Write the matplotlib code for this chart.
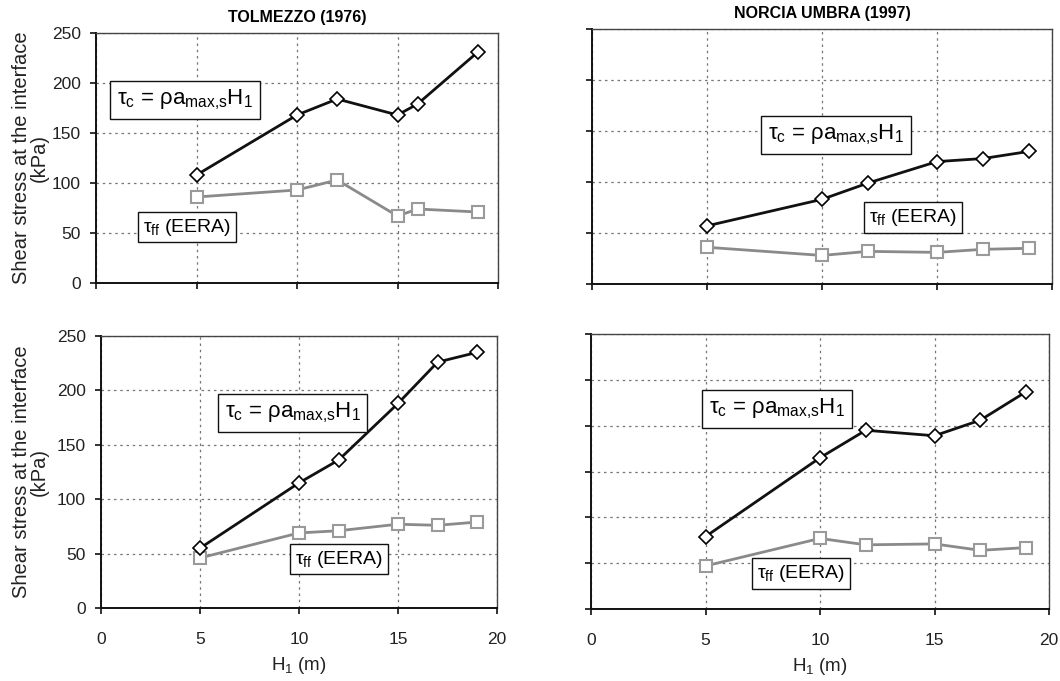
import numpy as np
import matplotlib
matplotlib.use('Agg')
import matplotlib.pyplot as plt

plt.rcParams['font.family'] = ['Liberation Sans', 'DejaVu Sans']
plt.rcParams['mathtext.fontset'] = 'custom'
plt.rcParams['mathtext.rm'] = 'Liberation Sans'
plt.rcParams['mathtext.it'] = 'Liberation Sans'
plt.rcParams['mathtext.bf'] = 'Liberation Sans:bold'

# data (kPa)
h_tol = [5, 10, 12, 15, 16, 19]
tc_tol_top = [108, 168, 184, 168, 179, 231]
tff_tol_top = [86, 93, 103, 67, 74, 71]

h_nor = [5, 10, 12, 15, 17, 19]
tc_nor_top = [57, 83, 99, 120, 123, 130]
tff_nor_top = [36, 28, 32, 31, 34, 35]

h_tol_b = [5, 10, 12, 15, 17, 19]
tc_tol_bot = [55, 115, 136, 188, 226, 235]
tff_tol_bot = [46, 69, 71, 77, 76, 79]

h_nor_b = [5, 10, 12, 15, 17, 19]
tc_nor_bot = [79, 165, 195, 189, 206, 237]
tff_nor_bot = [47, 77, 70, 71, 64, 67]

W, H = 1060, 681
fig = plt.figure(figsize=(W / 100, H / 100), dpi=100)

def box(l, t, r, b):
    return [l / W, 1 - b / H, (r - l) / W, (b - t) / H]

tc_label = r'$\tau_c$ = $\rho$a$_{max{,}s}$H$_1$'
tff_label = r'$\tau_{ff}$ (EERA)'

panels = [
    # axes box, x, tau_c, tau_ff, ymax, ylabels, xlabels, title, tc text pos, tff text pos, ylabel x
    (box(96, 33, 498, 283), h_tol, tc_tol_top, tff_tol_top, 250, True, False, 'TOLMEZZO (1976)', (0.95, 183), (2.3, 56), -0.117),
    (box(592, 29, 1052, 284), h_nor, tc_nor_top, tff_nor_top, 250, False, False, 'NORCIA UMBRA (1997)', (7.55, 146), (12.0, 65), None),
    (box(101, 336, 497, 608), h_tol_b, tc_tol_bot, tff_tol_bot, 250, True, True, None, (6.15, 179), (9.75, 45), -0.131),
    (box(591, 334, 1049, 609), h_nor_b, tc_nor_bot, tff_nor_bot, 300, False, True, None, (5.05, 218), (7.2, 39), None),
]

for rect, x, tc, tff, ymax, ylab, xlab, title, p1, p2, ylx in panels:
    ax = fig.add_axes(rect)
    ax.plot(x, tff, color='#8a8a8a', lw=2, marker='s', ms=9, mfc='white',
            mec='#9a9a9a', mew=1.5, zorder=3, clip_on=False)
    ax.plot(x, tc, color='#111111', lw=2, marker='D', ms=7.5, mfc='white',
            mec='black', mew=1.2, zorder=4, clip_on=False)
    ax.set_xlim(0, 20)
    ax.set_ylim(0, ymax)
    ax.set_xticks(np.arange(0, 21, 5))
    ax.set_yticks(np.arange(0, ymax + 1, 50))
    ax.grid(True, color='#777777', ls=(0, (2, 3)), lw=0.9)
    ax.set_axisbelow(True)
    ax.tick_params(direction='out', length=4, width=1.3, labelsize=12.5, pad=7,
                   colors='#222222')
    ax.tick_params(axis='x', pad=13)
    for s in ['left', 'bottom']:
        ax.spines[s].set_linewidth(1.4)
        ax.spines[s].set_color('#111111')
    for s in ['top', 'right']:
        ax.spines[s].set_linewidth(1.0)
        ax.spines[s].set_color('#444444')
    if not ylab:
        ax.set_yticklabels([])
    else:
        ax.set_ylabel('Shear stress at the interface\n(kPa)', fontsize=14.5,
                      linespacing=0.95, color='#222222')
        ax.yaxis.set_label_coords(ylx, 0.5)
    if not xlab:
        ax.set_xticklabels([])
    else:
        ax.set_xlabel('H$_1$ (m)', fontsize=13.5, labelpad=6, color='#222222')
    if title:
        ax.set_title(title, fontsize=11.5, fontweight='bold', pad=8)
    ax.text(p1[0] + 0.1, p1[1], tc_label, fontsize=16, ha='left', va='center', zorder=6,
            bbox=dict(boxstyle='square,pad=0.3', fc='white', ec='#111111', lw=1.0))
    ax.text(p2[0] + 0.05, p2[1], tff_label, fontsize=14, ha='left', va='center', zorder=6,
            bbox=dict(boxstyle='square,pad=0.25', fc='white', ec='#111111', lw=1.0))

fig.savefig('out.png', dpi=100)
